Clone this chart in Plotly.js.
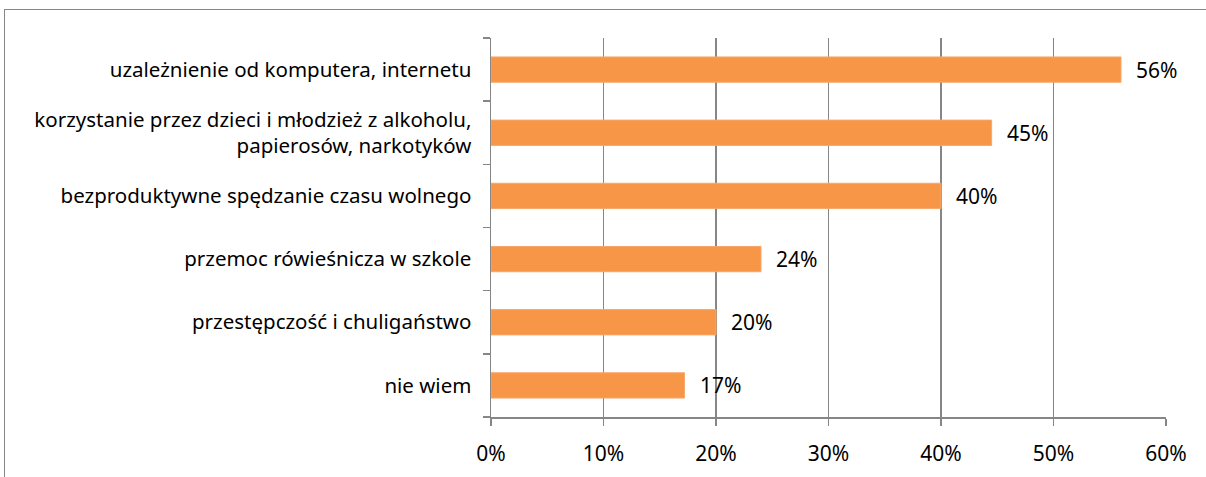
<!DOCTYPE html>
<html>
<head>
<meta charset="utf-8">
<script src="https://cdn.plot.ly/plotly-3.0.1.min.js"></script>
<style>
html,body{margin:0;padding:0;background:#fff;overflow:hidden;}
#chart{width:1206px;height:477px;position:absolute;left:0;top:0;}
#frame{position:absolute;left:4px;top:9px;width:1220px;height:500px;border:1px solid #868686;box-sizing:border-box;pointer-events:none;}
</style>
</head>
<body>
<div id="chart"></div>
<div id="frame"></div>
<script>
const categories = [
  "uzależnienie od komputera, internetu",
  "korzystanie przez dzieci i młodzież z alkoholu,<br>papierosów, narkotyków",
  "bezproduktywne spędzanie czasu wolnego",
  "przemoc rówieśnicza w szkole",
  "przestępczość i chuligaństwo",
  "nie wiem"
];
const values = [0.56, 0.445, 0.40, 0.24, 0.20, 0.172];
const valueLabels = ["56%", "45%", "40%", "24%", "20%", "17%"];
const xTickVals = [0, 0.1, 0.2, 0.3, 0.4, 0.5, 0.6];
const xTickText = ["0%", "10%", "20%", "30%", "40%", "50%", "60%"];

const FONT = "'Noto Sans', 'Open Sans', sans-serif";
const GRAY = "#868686";

const trace = {
  type: "bar",
  orientation: "h",
  x: values,
  y: categories,
  width: 0.4,
  marker: {color: "#F79646", line: {color: "#F9A66A", width: 1}},
  hoverinfo: "skip"
};

const annotations = values.map((v, i) => ({
  x: v, y: categories[i], xref: "x", yref: "y",
  text: valueLabels[i], showarrow: false,
  xanchor: "left", yanchor: "middle", xshift: 13,
  font: {family: FONT, size: 21, color: "#000"}
}));

const layout = {
  width: 1206, height: 477,
  margin: {l: 491, r: 40, t: 38, b: 60},
  paper_bgcolor: "rgba(0,0,0,0)",
  plot_bgcolor: "#fff",
  showlegend: false,
  xaxis: {
    range: [0, 0.6],
    tickvals: xTickVals, ticktext: xTickText,
    showgrid: true, gridcolor: GRAY, gridwidth: 1.5,
    showline: true, linecolor: GRAY, linewidth: 1.5,
    ticks: "outside", ticklen: 7, tickcolor: GRAY, tickwidth: 1.5,
    ticklabelstandoff: 10,
    zeroline: false,
    tickfont: {family: FONT, size: 21, color: "#000"},
    fixedrange: true
  },
  yaxis: {
    type: "category",
    categoryorder: "array", categoryarray: categories.slice().reverse(),
    autorange: false, range: [-0.5, 5.5],
    showgrid: false,
    showline: true, linecolor: GRAY, linewidth: 1.5,
    ticks: "outside", ticklen: 7, tickcolor: GRAY, tickwidth: 1.5,
    tickson: "boundaries",
    ticklabelstandoff: 14,
    tickfont: {family: FONT, size: 20.5, color: "#000"},
    fixedrange: true
  },
  annotations: annotations
};

Plotly.newPlot("chart", [trace], layout, {displayModeBar: false, staticPlot: true});
</script>
</body>
</html>
